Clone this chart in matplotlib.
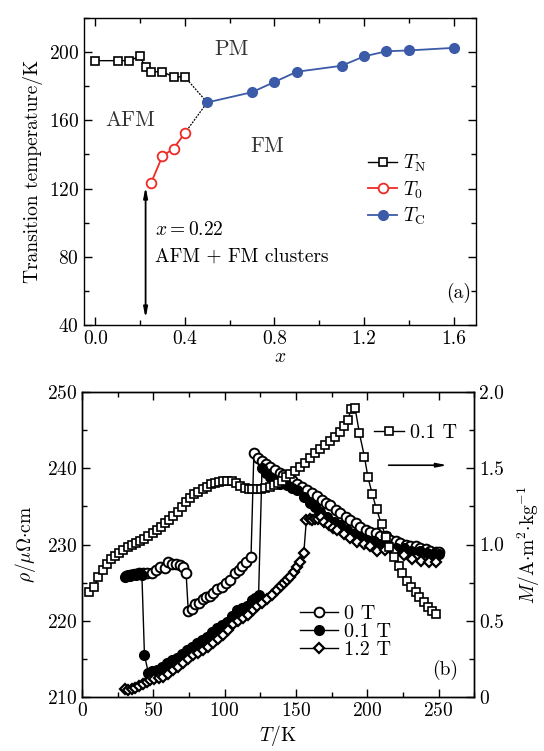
import matplotlib
matplotlib.use("Agg")
import matplotlib.pyplot as plt
from matplotlib.ticker import MultipleLocator

plt.rcParams['font.family'] = 'serif'
plt.rcParams['font.serif'] = ['cmr10', 'DejaVu Serif']
plt.rcParams['mathtext.fontset'] = 'cm'
plt.rcParams['axes.unicode_minus'] = False
plt.rcParams['axes.formatter.use_mathtext'] = True

# ---------------- panel (a) data ----------------
xN = [0.0, 0.1, 0.15, 0.2, 0.225, 0.25, 0.3, 0.35, 0.4]
TN = [195, 195, 195, 197.5, 191, 188.5, 188.5, 185.5, 185.5]
x0 = [0.25, 0.3, 0.35, 0.4]
T0 = [123.5, 139, 143.5, 152.5]
xC = [0.5, 0.7, 0.8, 0.9, 1.1, 1.2, 1.3, 1.4, 1.6]
TC = [170.5, 176.5, 182.5, 188.5, 192, 197.5, 200.5, 201, 202.5]

# ---------------- panel (b) data ----------------
T_0T = [31, 34, 37, 40, 43, 45.5, 49, 52, 55, 58, 60, 63, 66, 69, 71, 73, 74.5, 77, 79.5, 82,
        84.5, 87, 90, 92, 95, 98, 101, 104, 107, 110, 112.5, 115, 118.5, 120.5, 123.5, 126, 129,
        132, 135.5, 138.5, 141, 144, 147, 151, 154, 158, 161, 165, 168, 171, 174, 178, 181, 185,
        188, 192, 195, 199, 202, 206, 209, 213, 216, 220, 223, 227, 230, 234, 237, 241, 244, 248, 250]
rho_0T = [225.9, 226.0, 226.1, 226.2, 226.3, 226.3, 226.3, 226.6, 227.1, 226.9, 227.7, 227.5, 227.4,
          227.3, 227.1, 226.2, 221.3, 221.6, 222.2, 222.3, 222.8, 223.1, 223.2, 223.7, 224.1, 224.4,
          225.0, 225.4, 226.3, 226.6, 227.2, 227.7, 228.4, 242.0, 241.3, 241.0, 240.6, 240.2, 239.8,
          239.4, 239.1, 238.9, 238.5, 238.0, 237.6, 237.1, 236.7, 236.3, 235.8, 235.5, 235.2, 234.5,
          234.1, 233.6, 233.2, 232.8, 232.3, 231.9, 231.7, 231.5, 231.1, 231.1, 230.6, 230.4, 230.2,
          230.0, 229.8, 229.8, 229.6, 229.4, 229.2, 229.0, 229.0]

T_01T = [30, 32, 34, 36, 38, 40, 42, 43.8, 46.6, 49, 52.5, 56, 59.5, 63, 66.5, 70, 73.5, 77, 80.5, 84,
         87.5, 91, 94.5, 98, 101.5, 105, 108.5, 112, 115.5, 119, 121.5, 123.8, 126.2, 129, 132, 135,
         139, 143.5, 147, 151, 155.5, 160, 163.5, 167, 172, 176.5, 181, 186, 190.5, 195, 200, 204.5,
         209, 214, 220, 225.5, 231, 237, 242, 246.5, 250]
rho_01T = [225.8, 226.0, 225.9, 226.1, 226.0, 226.2, 226.0, 215.5, 213.1, 213.4, 213.6, 214.0, 214.4,
           214.8, 215.1, 215.6, 216.1, 216.6, 217.1, 217.5, 217.9, 218.5, 219.0, 219.4, 219.9, 220.6,
           221.4, 221.7, 222.0, 222.7, 223.0, 223.4, 240.0, 239.4, 238.8, 238.5, 238.0, 237.8, 237.4,
           237.1, 236.2, 235.4, 234.9, 234.3, 233.6, 233.0, 232.5, 231.9, 231.4, 231.0, 230.6, 230.4,
           230.1, 229.9, 229.6, 229.5, 229.2, 229.1, 228.9, 228.7, 228.7]

T_12T = [30, 32.5, 35, 37.5, 40, 42.5, 45.5, 48, 50.5, 54, 57, 60.5, 64, 67.5, 71, 74.5, 78, 81.5, 85,
         88.5, 92, 95.5, 99, 102.5, 106, 109.5, 113, 116.5, 120, 123, 126, 129.5, 133, 136.5, 139.5,
         141.5, 144, 146, 148.5, 151, 153, 155.5, 157.3, 159.5, 161.5, 163.5, 165.5, 167.5, 170, 173,
         176, 179, 183.5, 188, 193, 197.5, 202, 207, 212.5, 218.5, 225.5, 231.5, 237.5, 243, 248]
rho_12T = [211.1, 210.9, 211.0, 211.2, 211.4, 211.7, 212.0, 212.2, 212.3, 212.5, 212.6, 213.0, 213.5,
           214.0, 214.5, 215.0, 215.5, 215.8, 216.1, 216.6, 217.1, 217.6, 218.1, 218.8, 219.6, 220.0,
           220.3, 220.8, 221.4, 221.9, 222.3, 222.9, 223.4, 224.0, 224.5, 224.9, 225.3, 225.8, 226.4,
           227.1, 227.7, 228.9, 233.2, 233.3, 233.2, 233.3, 233.4, 233.6, 233.0, 232.5, 232.2, 231.9,
           231.4, 230.8, 230.3, 230.1, 229.8, 229.2, 229.3, 229.0, 228.6, 228.1, 227.9, 227.7, 227.7]

T_M = [5, 8.5, 11.5, 14.5, 17.5, 20, 23, 26, 29, 32, 35, 38, 40.5, 43.5, 46.5, 49.5, 52.5, 55.5, 58.5,
       61, 64, 67, 70, 73, 76, 78.5, 81.5, 84.5, 87.5, 90.5, 93.5, 96, 99, 102, 105, 108, 111, 114,
       117, 119.5, 122.5, 125.5, 128.5, 131.5, 134.5, 137.5, 140, 143, 146, 149.5, 153, 156.5, 160,
       163.5, 167, 170.5, 174, 177.5, 181, 184, 186.5, 188.5, 191.5, 194.5, 198, 200.5, 203.5, 206.5,
       210, 213, 215, 218.5, 222, 224.5, 228, 231, 234, 236.5, 239.5, 242.5, 245.5, 248.5]
M_01T = [0.687, 0.723, 0.785, 0.833, 0.872, 0.903, 0.927, 0.946, 0.964, 0.982, 0.995, 1.008, 1.023,
         1.038, 1.056, 1.073, 1.095, 1.117, 1.139, 1.161, 1.187, 1.215, 1.248, 1.277, 1.303, 1.329,
         1.346, 1.364, 1.379, 1.395, 1.405, 1.412, 1.418, 1.418, 1.414, 1.401, 1.386, 1.372, 1.364,
         1.362, 1.362, 1.362, 1.369, 1.379, 1.39, 1.405, 1.418, 1.44, 1.462, 1.484, 1.51, 1.536, 1.565,
         1.598, 1.624, 1.652, 1.681, 1.707, 1.74, 1.777, 1.816, 1.886, 1.893, 1.729, 1.576, 1.44, 1.331,
         1.231, 1.132, 1.051, 0.986, 0.92, 0.861, 0.811, 0.763, 0.723, 0.689, 0.654, 0.621, 0.592,
         0.566, 0.544]

RED = '#ee2a24'
BLUE = '#3b5aa8'
FS = 14

fig = plt.figure(figsize=(5.44, 7.51), dpi=100)

# ================= panel (a) =================
ax1 = fig.add_axes([0.1544, 0.5672, 0.7206, 0.4088])
ax1.plot(xN, TN, '-', color='black', lw=1.0, marker='s', ms=5.5, mfc='white', mec='black', mew=1.2,
         label=r'$T_{\mathrm{N}}$', zorder=3)
ax1.plot(x0, T0, '-', color=RED, lw=1.3, marker='o', ms=7, mfc='white', mec=RED, mew=1.3,
         label=r'$T_{0}$', zorder=3)
ax1.plot(xC, TC, '-', color=BLUE, lw=1.3, marker='o', ms=7, mfc=BLUE, mec=BLUE,
         label=r'$T_{\mathrm{C}}$', zorder=3)
ax1.plot([xN[-1], xC[0]], [TN[-1], TC[0]], linestyle=(0, (1.5, 1)), color='black', lw=0.9, zorder=2)
ax1.plot([x0[-1], xC[0]], [T0[-1], TC[0]], linestyle=(0, (1.5, 1)), color='black', lw=0.9, zorder=2)

ax1.annotate('', xy=(0.225, 44), xytext=(0.225, 121),
             arrowprops=dict(arrowstyle='<|-|>,head_width=0.12,head_length=0.6', lw=1.3, color='black',
                             shrinkA=0, shrinkB=0))

ax1.set_xlim(-0.05, 1.7)
ax1.set_ylim(40, 220)
ax1.xaxis.set_major_locator(MultipleLocator(0.4))
ax1.xaxis.set_minor_locator(MultipleLocator(0.2))
ax1.yaxis.set_major_locator(MultipleLocator(40))
ax1.yaxis.set_minor_locator(MultipleLocator(20))
ax1.xaxis.set_major_formatter(matplotlib.ticker.FormatStrFormatter('%.1f'))
ax1.tick_params(which='both', direction='in', top=True, right=True, labelsize=FS)
ax1.tick_params(which='major', length=6, width=1)
ax1.tick_params(which='minor', length=3.5, width=1)
ax1.set_xlabel(r'$x$', fontsize=FS, labelpad=0)
ax1.set_ylabel('Transition temperature/K', fontsize=FS, labelpad=4)

ax1.text(0.61, 201.5, 'PM', fontsize=FS + 1.5, ha='center', va='center', color='#333333')
ax1.text(0.155, 160, 'AFM', fontsize=FS + 1.5, ha='center', va='center', color='#333333')
ax1.text(0.77, 145, 'FM', fontsize=FS + 1.5, ha='center', va='center', color='#333333')
ax1.text(0.265, 96, r'$x=0.22$', fontsize=FS, ha='left', va='center')
ax1.text(0.265, 80, 'AFM + FM clusters', fontsize=FS, ha='left', va='center')
ax1.text(0.955, 0.105, '(a)', transform=ax1.transAxes, fontsize=FS, ha='center', va='center')

leg1 = ax1.legend(loc='center left', bbox_to_anchor=(0.725, 0.44), frameon=False, fontsize=FS,
                  handlelength=1.5, handletextpad=0.3, labelspacing=0.25, borderpad=0, borderaxespad=0)

# ================= panel (b) =================
ax2 = fig.add_axes([0.1507, 0.0719, 0.7211, 0.4061])
ax2.plot(T_0T, rho_0T, '-', color='black', lw=1.0, marker='o', ms=7, mfc='white', mec='black', mew=1.4,
         label='0 T', zorder=3)
ax2.plot(T_01T, rho_01T, '-', color='black', lw=1.0, marker='o', ms=7, mfc='black', mec='black',
         label='0.1 T', zorder=4)
ax2.plot(T_12T, rho_12T, '-', color='black', lw=1.0, marker='D', ms=5.5, mfc='white', mec='black', mew=1.6,
         label='1.2 T', zorder=5)
ax2.set_xlim(0, 275)
ax2.set_ylim(210, 250)
ax2.xaxis.set_major_locator(MultipleLocator(50))
ax2.xaxis.set_minor_locator(MultipleLocator(25))
ax2.yaxis.set_major_locator(MultipleLocator(10))
ax2.yaxis.set_minor_locator(MultipleLocator(5))
ax2.tick_params(which='both', direction='in', top=True, right=False, labelsize=FS)
ax2.tick_params(which='major', length=6, width=1)
ax2.tick_params(which='minor', length=3.5, width=1)
ax2.set_xlabel(r'$T/\mathrm{K}$', fontsize=FS, labelpad=2)
ax2.set_ylabel(r'$\rho/\mu\Omega{\cdot}\mathrm{cm}$', fontsize=FS, labelpad=6)

leg2 = ax2.legend(loc='center left', bbox_to_anchor=(0.555, 0.214), frameon=False, fontsize=FS + 0.5,
                  handlelength=1.9, handletextpad=0.3, labelspacing=0.0, borderpad=0, borderaxespad=0)

ax3 = ax2.twinx()
ax3.plot(T_M, M_01T, '-', color='black', lw=1.0, marker='s', ms=5.5, mfc='white', mec='black', mew=1.2,
         label='0.1 T', zorder=6)
ax3.set_ylim(0, 2.0)
ax3.yaxis.set_major_locator(MultipleLocator(0.5))
ax3.yaxis.set_minor_locator(MultipleLocator(0.25))
ax3.yaxis.set_major_formatter(matplotlib.ticker.FuncFormatter(lambda v, p: '0' if v == 0 else '%.1f' % v))
ax3.tick_params(which='both', direction='in', labelsize=FS)
ax3.tick_params(which='major', length=6, width=1)
ax3.tick_params(which='minor', length=3.5, width=1)
ax3.set_ylabel(r'$M/\mathrm{A{\cdot}m^{2}{\cdot}kg^{-1}}$', fontsize=FS, labelpad=8)

leg3 = ax3.legend(loc='center left', bbox_to_anchor=(0.744, 0.867), frameon=False, fontsize=FS + 0.5,
                  handlelength=1.5, handletextpad=0.3, borderpad=0, borderaxespad=0)
ax3.annotate('', xy=(256, 1.52), xytext=(215, 1.52), xycoords='data',
             arrowprops=dict(arrowstyle='-|>,head_width=0.12,head_length=0.6', lw=1.2, color='black',
                             shrinkA=0, shrinkB=0))
ax3.text(0.925, 0.089, '(b)', transform=ax3.transAxes, fontsize=FS, ha='center', va='center')

for ax in (ax1, ax2, ax3):
    for s in ax.spines.values():
        s.set_linewidth(1.0)

fig.savefig('out.png', dpi=100)
